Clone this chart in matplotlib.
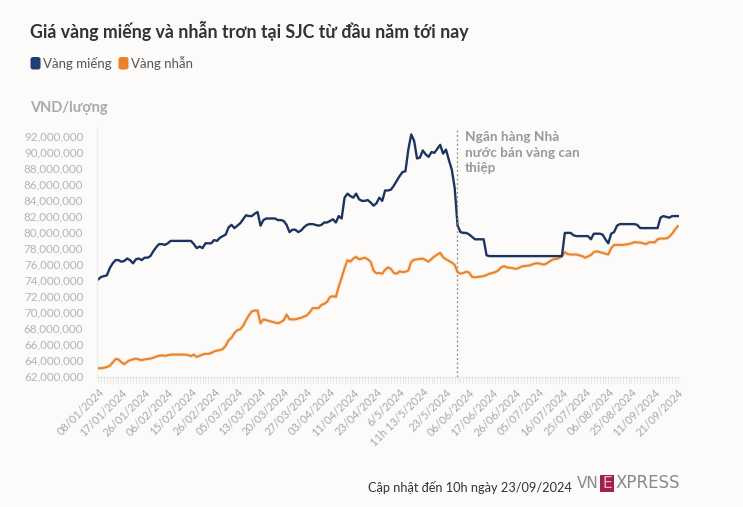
import numpy as np
import matplotlib.pyplot as plt
from matplotlib.patches import FancyBboxPatch, Rectangle

# labels shown on the x axis, one every 8 observations
date_labels = ['08/01/2024', '17/01/2024', '26/01/2024', '06/02/2024', '15/02/2024',
               '26/02/2024', '05/03/2024', '13/03/2024', '20/03/2024', '27/03/2024',
               '03/04/2024', '11/04/2024', '23/04/2024', '6/5/2024', '11h 13/5/2024',
               '23/5/2024', '06/06/2024', '17/06/2024', '26/06/2024', '05/07/2024',
               '16/07/2024', '25/07/2024', '06/08/2024', '25/08/2024', '11/09/2024',
               '21/09/2024']
step = 8

# Vàng miếng, million VND / lượng
mieng = [
    74.1, 74.4, 74.5, 74.6, 75.5, 76.1, 76.5, 76.5,
    76.3, 76.4, 76.7, 76.5, 76.1, 76.6, 76.7, 76.5,
    76.8, 76.8, 77.0, 77.6, 78.1, 78.5, 78.5, 78.4,
    78.6, 78.9, 78.9, 78.9, 78.9, 78.9, 78.9, 78.9,
    78.9, 78.5, 78.0, 78.2, 78.0, 78.6, 78.6, 78.6,
    79.0, 78.9, 79.3, 79.5, 79.7, 80.6, 80.9, 80.5,
    80.8, 81.1, 81.6, 82.1, 82.0, 82.0, 82.3, 82.5,
    80.8, 81.5, 81.7, 81.7, 81.7, 81.7, 81.5, 81.5,
    81.4, 80.9, 80.0, 80.3, 80.3, 80.0, 80.2, 80.6,
    80.9, 81.0, 81.0, 80.9, 80.8, 80.9, 81.2, 81.2,
    81.4, 81.6, 81.2, 82.0, 81.7, 84.3, 84.8, 84.5,
    84.3, 84.8, 84.1, 83.9, 83.9, 84.0, 83.7, 83.3,
    83.6, 84.3, 83.9, 85.2, 85.2, 85.3, 85.8, 86.4,
    87.0, 87.5, 87.6, 90.3, 92.2, 91.4, 89.2, 89.3,
    90.2, 89.7, 89.4, 90.0, 89.9, 90.4, 90.9, 89.8,
    90.3, 89.0, 87.8, 85.5, 80.8, 80.0, 79.9, 79.9,
    79.7, 79.4, 79.1, 79.1, 79.1, 79.1, 77.1, 77.0,
    77.0, 77.0, 77.0, 77.0, 77.0, 77.0, 77.0, 77.0,
    77.0, 77.0, 77.0, 77.0, 77.0, 77.0, 77.0, 77.0,
    77.0, 77.0, 77.0, 77.0, 77.0, 77.0, 77.0, 77.0,
    77.0, 79.9, 79.9, 79.9, 79.6, 79.5, 79.5, 79.5,
    79.5, 79.5, 79.1, 79.8, 79.8, 79.8, 79.7, 79.1,
    78.6, 79.8, 80.0, 80.8, 81.0, 81.0, 81.0, 81.0,
    81.0, 81.0, 80.9, 80.5, 80.5, 80.5, 80.5, 80.5,
    80.5, 80.5, 81.8, 82.0, 81.9, 81.8, 82.0, 82.0,
    82.0,
]

# Vàng nhẫn, million VND / lượng
nhan = [
    63.0, 63.0, 63.05, 63.15, 63.3, 63.7, 64.15, 64.1,
    63.75, 63.5, 63.8, 64.0, 64.1, 64.2, 64.1, 64.0,
    64.1, 64.15, 64.2, 64.3, 64.45, 64.55, 64.6, 64.55,
    64.6, 64.7, 64.7, 64.7, 64.7, 64.7, 64.7, 64.65,
    64.5, 64.7, 64.4, 64.55, 64.7, 64.8, 64.8, 64.9,
    65.1, 65.2, 65.25, 65.4, 65.8, 66.5, 66.8, 67.4,
    67.75, 67.85, 68.3, 69.0, 69.6, 70.1, 70.2, 70.2,
    68.6, 69.1, 69.0, 68.9, 68.8, 68.7, 68.6, 68.75,
    69.0, 69.7, 69.1, 69.1, 69.1, 69.2, 69.3, 69.45,
    69.6, 70.0, 70.5, 70.5, 70.5, 70.9, 71.05, 71.3,
    71.9, 72.0, 71.9, 73.2, 74.3, 75.5, 76.5, 76.3,
    76.7, 76.9, 76.6, 76.7, 76.8, 76.6, 76.3, 75.2,
    74.85, 74.9, 74.8, 75.3, 75.6, 75.4, 74.9, 74.8,
    75.1, 75.0, 75.05, 75.2, 76.3, 76.55, 76.6, 76.65,
    76.7, 76.5, 76.3, 76.65, 76.95, 77.2, 77.4, 76.85,
    76.6, 76.4, 76.2, 75.9, 75.0, 74.8, 74.9, 75.05,
    74.95, 74.4, 74.35, 74.4, 74.45, 74.5, 74.65, 74.8,
    74.9, 75.0, 75.2, 75.6, 75.75, 75.6, 75.55, 75.5,
    75.4, 75.5, 75.7, 75.75, 75.8, 75.85, 76.0, 76.1,
    76.1, 76.0, 75.95, 76.15, 76.4, 76.6, 76.65, 76.75,
    77.0, 77.5, 77.25, 77.2, 77.2, 77.2, 77.1, 77.0,
    76.8, 76.95, 77.15, 77.5, 77.6, 77.5, 77.4, 77.3,
    77.2, 78.0, 78.4, 78.4, 78.4, 78.4, 78.45, 78.5,
    78.6, 78.75, 78.7, 78.7, 78.6, 78.5, 78.7, 78.75,
    78.7, 79.1, 79.2, 79.2, 79.2, 79.4, 79.8, 80.3,
    80.75,
]

yticks = np.arange(62, 93, 2) * 1e6
event_pos = 123.8  # Ngân hàng Nhà nước bán vàng can thiệp

bg = '#fcfbf9'
navy = '#1c3560'
orange = '#e8832a'
font = ['Lato', 'DejaVu Sans']
plt.rcParams['font.family'] = font

fig = plt.figure(figsize=(7.43, 5.07), dpi=100, facecolor=bg)
ax = fig.add_axes([0.1306, 0.2564, 0.7833, 0.4911], facecolor=bg)

x = np.arange(len(mieng))
v_mieng = np.array(mieng) * 1e6
v_nhan = np.array(nhan) * 1e6

ax.plot(x, v_nhan, color=orange, lw=3.0, alpha=0.15, solid_capstyle='round')
ax.plot(x, v_nhan, color=orange, lw=1.5)
ax.plot(x, v_mieng, color=navy, lw=1.7)

ax.axvline(event_pos, color='#8a8a8a', lw=0.9, ls=(0, (1.5, 2)))

ax.set_xlim(-0.4, len(mieng) - 0.6)
ax.set_ylim(61.9e6, 93e6)

ax.set_yticks(yticks)
ax.set_yticklabels([f'{int(v):,}' for v in yticks])
ax.set_xticks(np.arange(len(date_labels)) * step)
ax.set_xticklabels(date_labels, rotation=45, ha='right', rotation_mode='anchor')
ax.set_xticks(x, minor=True)

ax.tick_params(axis='y', length=0, pad=10, labelsize=8.4, labelcolor='#b3b3b3')
ax.tick_params(axis='x', which='both', direction='out', length=4, width=0.6,
               color='#e2e2e2', labelsize=7.9, labelcolor='#a8a8a8', pad=3)

for s in ['top', 'right']:
    ax.spines[s].set_visible(False)
ax.spines['left'].set_color('#ececec')
ax.spines['bottom'].set_color('#e6e6e6')
ax.spines['left'].set_linewidth(0.8)
ax.spines['bottom'].set_linewidth(0.8)

W, H = 743, 507


def fx(px):
    return px / W


def fy(py):
    return 1 - py / H


fig.text(fx(30), fy(31), 'Giá vàng miếng và nhẫn trơn tại SJC từ đầu năm tới nay',
         fontsize=12.8, fontweight='bold', color='#333333', va='center')

# legend
fig.patches.append(FancyBboxPatch((fx(30.5), fy(69.5)), fx(10), 12.5 / H,
                                  boxstyle='round,pad=0,rounding_size=0.004',
                                  transform=fig.transFigure, facecolor='#1f3e75',
                                  edgecolor='none'))
fig.text(fx(43), fy(63.5), 'Vàng miếng', fontsize=9.5, color='#555555', va='center')
fig.patches.append(FancyBboxPatch((fx(118.5), fy(69.5)), fx(10), 12.5 / H,
                                  boxstyle='round,pad=0,rounding_size=0.004',
                                  transform=fig.transFigure, facecolor=orange,
                                  edgecolor='none'))
fig.text(fx(131), fy(63.5), 'Vàng nhẫn', fontsize=9.5, color='#555555', va='center')

fig.text(fx(30), fy(108), 'VND/lượng', fontsize=10.5, fontweight='bold',
         color='#aaaaaa', va='center')

ax.text(event_pos + 2.6, 92.6e6, 'Ngân hàng Nhà\nnước bán vàng can\nthiệp',
        fontsize=9.8, fontweight='bold', color='#999999', va='top', ha='left',
        linespacing=1.35)

fig.text(fx(572), fy(488), 'Cập nhật đến 10h ngày 23/09/2024', fontsize=9.2,
         color='#333333', va='center', ha='right')

# VnExpress mark
fig.text(fx(577), fy(483), 'VN', fontsize=11, color='#8a8a8a', va='center',
         family=['DejaVu Sans'])
fig.patches.append(Rectangle((fx(600), fy(492)), fx(14), 17 / H,
                             transform=fig.transFigure, facecolor='#9f224e',
                             edgecolor='none'))
fig.text(fx(607), fy(483.5), 'E', fontsize=11, color='#f3b6c6', va='center',
         ha='center', family=['DejaVu Sans'])
fig.text(fx(616), fy(483), 'XPRESS', fontsize=12, color='#8a8a8a', va='center',
         family=['DejaVu Sans'])

fig.savefig('out.png', dpi=100, facecolor=bg)
